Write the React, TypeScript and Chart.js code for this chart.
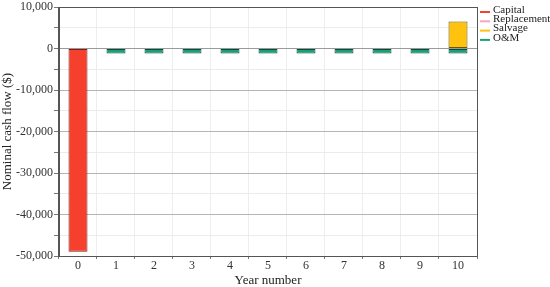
import React, { useEffect, useRef } from "react";
import { Chart, registerables } from "chart.js";

Chart.register(...registerables);

const years = ["0", "1", "2", "3", "4", "5", "6", "7", "8", "9", "10"];
const seriesNames = ["Capital", "Replacement", "Salvage", "O&M"];
const capital = [-49000, 0, 0, 0, 0, 0, 0, 0, 0, 0, 0];
const replacement = [0, 0, 0, 0, 0, 0, 0, 0, 0, 0, 0];
const salvage = [0, 0, 0, 0, 0, 0, 0, 0, 0, 0, 6500];
const om = [0, -1200, -1200, -1200, -1200, -1200, -1200, -1200, -1200, -1200, -1200];

const FONT = "'Liberation Serif', 'DejaVu Serif', serif";

const frame = {
  id: "frame",
  afterDatasetsDraw(chart: any) {
    const { ctx, chartArea: a } = chart;
    ctx.save();
    ctx.strokeStyle = "#555";
    ctx.lineWidth = 1;
    ctx.strokeRect(Math.round(a.left) + 0.5, Math.round(a.top) + 0.5, Math.round(a.right - a.left), Math.round(a.bottom - a.top));
    // legend
    const x0 = a.right + 3;
    ctx.font = `11px ${FONT}`;
    ctx.textBaseline = "middle";
    ctx.textAlign = "left";
    chart.data.datasets.forEach((d: any, i: number) => {
      const y = 10 + i * 9.3;
      ctx.strokeStyle = d.backgroundColor;
      ctx.lineWidth = 2;
      ctx.beginPath();
      ctx.moveTo(x0, y + 2);
      ctx.lineTo(x0 + 10, y + 2);
      ctx.stroke();
      ctx.fillStyle = "#222";
      ctx.fillText(d.label, x0 + 13, y);
    });
    ctx.restore();
  },
};

export default function App() {
  const ref = useRef<HTMLCanvasElement>(null);
  useEffect(() => {
    document.body.style.margin = "0";
    const mk = (label: string, data: number[], bg: string, bd: string, bw = 1) => ({
      label,
      data,
      backgroundColor: bg,
      borderColor: bd,
      borderWidth: bw,
      borderSkipped: false,
      categoryPercentage: 1,
      barPercentage: 0.5,
    });
    const chart = new Chart(ref.current!, {
      type: "bar",
      data: {
        labels: years,
        datasets: [
          mk(seriesNames[0], capital, "#F5402E", "#7a1d14"),
          mk(seriesNames[1], replacement, "#F2A7C3", "#9a5a72", 0),
          mk(seriesNames[2], salvage, "#FFC20E", "#6e5400"),
          mk(seriesNames[3], om, "#17A079", "#0b4a37"),
        ],
      },
      options: {
        animation: false,
        responsive: false,
        maintainAspectRatio: false,
        layout: { padding: { top: 1, right: 73, left: 1, bottom: 0 } },
        plugins: {
          tooltip: { enabled: false },
          legend: { display: false },
        },
        scales: {
          x: {
            stacked: true,
            offset: true,
            grid: { offset: true, color: "#eeeeee", tickLength: 3, tickColor: "#777" },
            border: { color: "#555" },
            ticks: { font: { family: FONT, size: 12, lineHeight: 1 }, color: "#333", padding: 1 },
            title: { display: true, text: "Year number", font: { family: FONT, size: 13, lineHeight: 1 }, color: "#222", padding: { top: 1, bottom: 0 } },
          },
          y: {
            stacked: true,
            min: -50000,
            max: 10000,
            ticks: {
              stepSize: 5000,
              font: { family: FONT, size: 12, lineHeight: 1 },
              color: "#333",
              padding: 1,
              callback: (v: any) => (Number(v) % 10000 === 0 ? Number(v).toLocaleString("en-US") : ""),
            },
            grid: {
              color: (c: any) => {
                const v = c.tick ? c.tick.value : 0;
                if (v === 0) return "#9a9a9a";
                return v % 10000 === 0 ? "#b5b5b5" : "#ececec";
              },
              tickLength: 5,
              tickColor: "#777",
            },
            border: { color: "#555" },
            title: { display: true, text: "Nominal cash flow ($)", font: { family: FONT, size: 13, lineHeight: 1 }, color: "#222", padding: { top: 0, bottom: 1 } },
          },
        },
      },
      plugins: [frame],
    } as any);
    return () => chart.destroy();
  }, []);
  return (
    <div style={{ position: "fixed", left: 0, top: 0, width: 550, height: 287 }}>
      <canvas ref={ref} width={550} height={287} style={{ width: 550, height: 287 }} />
    </div>
  );
}
